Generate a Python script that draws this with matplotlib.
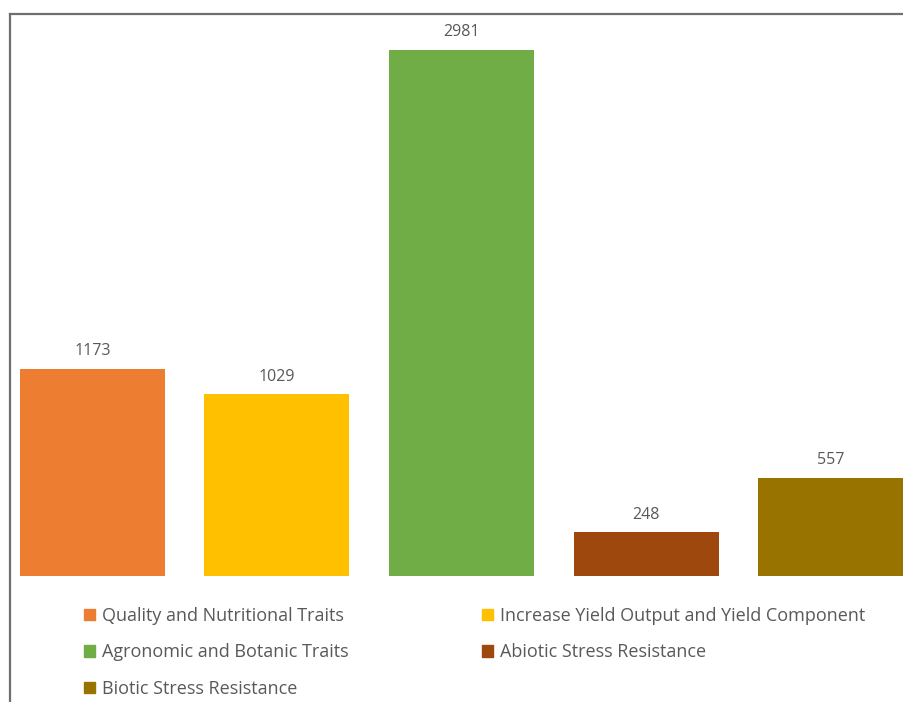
import matplotlib
matplotlib.use("Agg")
import matplotlib.pyplot as plt
from matplotlib.lines import Line2D
from matplotlib.patches import Patch

categories = ["Quality and Nutritional Traits", "Increase Yield Output and Yield Component",
              "Agronomic and Botanic Traits", "Abiotic Stress Resistance", "Biotic Stress Resistance"]
values = [1173, 1029, 2981, 248, 557]
colors = ["#ED7D31", "#FFC000", "#70AD47", "#9E480E", "#997300"]

W, H = 904, 702
fig = plt.figure(figsize=(W / 100, H / 100), dpi=100)
fig.patch.set_facecolor("white")

base_y = 576
top_y = 14
ax = fig.add_axes([0, (H - base_y) / H, 1, (base_y - top_y) / H])
x = list(range(len(values)))
ax.bar(x, values, width=0.785, color=colors)
ax.set_xlim(-0.5, 4.397)
scale = (base_y - 50) / 2981
ax.set_ylim(0, (base_y - top_y) / scale)
ax.axis("off")
for xi, v in zip(x, values):
    ax.annotate(str(v), (xi, v), xytext=(0, 7), textcoords="offset points",
                ha="center", va="bottom", color="#595959", family="Open Sans", fontsize=11.5)

# frame lines
fig.add_artist(Line2D([10 / W, 10 / W], [0, 1 - top_y / H], color="#6e6e6e", lw=1.6,
                      transform=fig.transFigure))
fig.add_artist(Line2D([10 / W, 1], [1 - top_y / H, 1 - top_y / H], color="#6e6e6e", lw=1.6,
                      transform=fig.transFigure))

order = [0, 2, 4, 1, 3]
handles = [Patch(color=colors[i]) for i in order]
labels = [categories[i] for i in order]
leg = fig.legend(handles, labels, ncol=2, loc="upper left", bbox_to_anchor=(84 / W, 1 - 607 / H),
                 frameon=False, handlelength=0.6, handleheight=0.6, handletextpad=0.4,
                 columnspacing=7.4, labelspacing=1.02, borderpad=0, borderaxespad=0,
                 prop={"family": "Open Sans", "size": 13})
for t in leg.get_texts():
    t.set_color("#595959")

fig.savefig("out.png", dpi=100, facecolor="white")
